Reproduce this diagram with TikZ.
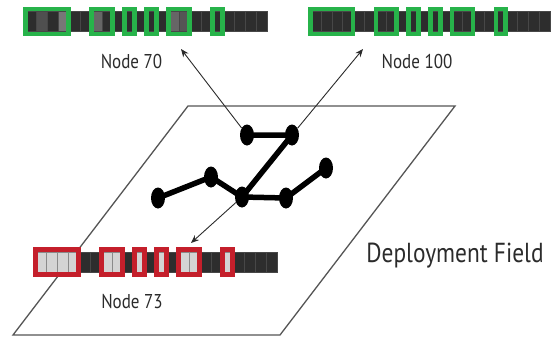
\documentclass[tikz,border=0pt]{standalone}
\usepackage{fontspec}
\setmainfont{PT Sans}[FakeStretch=0.85]
\usetikzlibrary{arrows.meta,shapes.geometric}

\definecolor{cellDark}{HTML}{2D2D2D}
\definecolor{cellSep}{HTML}{474747}
\definecolor{cellLight}{HTML}{D4D4D4}
\definecolor{lightSep}{HTML}{8A8A8A}
\definecolor{hiGreen}{HTML}{27B34A}
\definecolor{hiRed}{HTML}{C41F2B}
\definecolor{inkGray}{HTML}{2B2B2B}
\definecolor{fieldGray}{HTML}{555555}

% Cells of one memory strip: 22 cells, those of the six groups filled with #4.
% #1 left x, #2 top y, #3 cell width, #4 fill of grouped cells, #5 separator of grouped cells
\newcommand{\memcells}[5]{%
  \foreach \i in {0,...,21}
    \draw[cellSep, fill=cellDark, line width=0.6pt] ({#1+\i*#3},#2) rectangle ++(#3,20);
  \foreach \a/\b in {0/3,6/7,9/9,11/11,13/14,17/17}{
    \foreach \i in {\a,...,\b}
      \draw[#5, fill=#4, line width=0.6pt] ({#1+\i*#3},#2) rectangle ++(#3,20);
  }%
}
% Frames round the six groups. #1 left x, #2 top y, #3 cell width, #4 frame colour
\newcommand{\memframes}[4]{%
  \foreach \a/\b in {0/3,6/7,9/9,11/11,13/14,17/17}
    \draw[#4, line width=4.5pt] ({#1+\a*#3+0.5},{#2-2.5}) rectangle ({#1+(\b+1)*#3-0.5},{#2+22.5});
}

\tikzset{
  vtx/.style={ellipse, fill=black, draw=none, minimum width=14pt, minimum height=21pt, inner sep=0pt},
  link/.style={line width=5.5pt, black},
  ptr/.style={draw=inkGray, line width=0.9pt, -{Stealth[length=8pt,width=6.5pt]}},
  field/.style={draw=fieldGray, line width=1.3pt, line join=miter},
  lbl/.style={text=inkGray, font=\fontsize{20}{22}\selectfont, inner sep=0pt, anchor=base},
  biglbl/.style={text=inkGray, font=\fontsize{27.5}{30}\selectfont, inner sep=0pt, anchor=base},
}

\begin{document}
\begin{tikzpicture}[x=1pt, y=-1pt]
  \useasboundingbox[fill=white] (0,0) rectangle (557,340);

  % deployment field
  \draw[field] (188,106) -- (455,106) -- (280,335) -- (13,335) -- cycle;
  \node[biglbl] (field) at (455,262) {Deployment Field};

  % memory strips of the three nodes
  \memcells{25}{11.5}{11}{cellDark}{cellSep}
  \foreach \i/\g in {1/4F4F4F,3/777777,6/666666,13/666666,14/555555}{
    \definecolor{tmpg}{HTML}{\g}
    \fill[tmpg] ({25+\i*11+0.5},12) rectangle ++(10,19);
  }
  \memframes{25}{11.5}{11}{hiGreen}

  \memcells{310}{11.5}{10.9}{cellDark}{cellSep}
  \memframes{310}{11.5}{10.9}{hiGreen}

  \memcells{35}{252}{11}{cellLight}{lightSep}
  \memframes{35}{252}{11}{hiRed}

  \node[lbl] (n70) at (131.5,68) {Node 70};
  \node[lbl] (n100) at (417,68) {Node 100};
  \node[lbl] (n73) at (132,308) {Node 73};

  \coordinate (t70) at (181,49);
  \coordinate (t100) at (363,49);
  \coordinate (t73) at (191,243);

  % network nodes
  \node[vtx] (a) at (247,135) {};
  \node[vtx] (b) at (292,135) {};
  \node[vtx] (c) at (211,177) {};
  \node[vtx] (d) at (158,198) {};
  \node[vtx] (e) at (242,197) {};
  \node[vtx] (f) at (286,198) {};
  \node[vtx] (g) at (326,168) {};

  \draw[link] (a.center) -- (b.center) -- (e.center);
  \draw[link] (d.center) -- (c.center) -- (e.center) -- (f.center) -- (g.center);

  % pointers to the stored copies
  \draw[ptr] (a) -- (t70);
  \draw[ptr] (b) -- (t100);
  \draw[ptr] (e) -- (t73);
\end{tikzpicture}
\end{document}
